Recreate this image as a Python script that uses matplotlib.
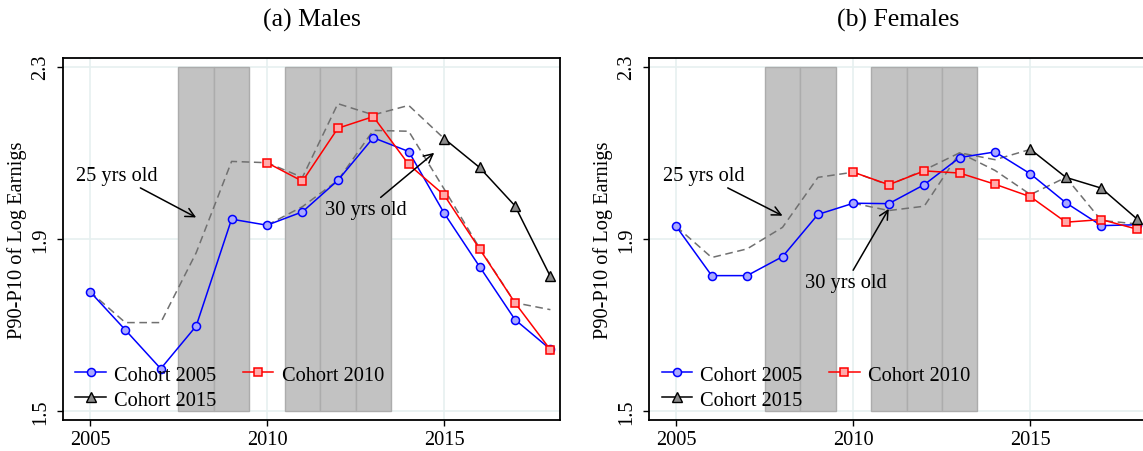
import numpy as np
import matplotlib
matplotlib.use("Agg")
import matplotlib.pyplot as plt

plt.rcParams["font.family"] = ["Liberation Serif", "DejaVu Serif"]

# Years with shaded bars (recession years)
band_years = [2008, 2009, 2011, 2012, 2013]
band_bottom = 1.5
band_top = 2.3

# Males
m_years_2005 = list(range(2005, 2019))
m_cohort_2005 = [1.778, 1.689, 1.599, 1.698, 1.946, 1.932, 1.963, 2.036,
                 2.135, 2.103, 1.960, 1.836, 1.713, 1.644]
m_years_2010 = list(range(2010, 2019))
m_cohort_2010 = [2.077, 2.034, 2.157, 2.184, 2.073, 2.002, 1.877, 1.752, 1.643]
m_years_2015 = list(range(2015, 2019))
m_cohort_2015 = [2.133, 2.066, 1.977, 1.813]
m_years_age25 = list(range(2005, 2016))
m_age25 = [1.778, 1.706, 1.706, 1.868, 2.080, 2.077, 2.043, 2.214,
           2.188, 2.210, 2.133]
m_years_age30 = list(range(2010, 2019))
m_age30 = [1.932, 1.975, 2.036, 2.152, 2.150, 2.016, 1.879, 1.752, 1.736]

# Females
f_years_2005 = list(range(2005, 2019))
f_cohort_2005 = [1.929, 1.815, 1.815, 1.859, 1.957, 1.983, 1.982, 2.026,
                 2.089, 2.102, 2.051, 1.984, 1.931, 1.933]
f_years_2010 = list(range(2010, 2019))
f_cohort_2010 = [2.055, 2.026, 2.058, 2.053, 2.027, 1.998, 1.939, 1.945, 1.923]
f_years_2015 = list(range(2015, 2019))
f_cohort_2015 = [2.108, 2.043, 2.018, 1.947]
f_years_age25 = list(range(2005, 2016))
f_age25 = [1.929, 1.857, 1.877, 1.927, 2.043, 2.055, 2.025, 2.060,
           2.100, 2.084, 2.108]
f_years_age30 = list(range(2010, 2019))
f_age30 = [1.983, 1.966, 1.976, 2.100, 2.059, 2.003, 2.043, 1.943, 1.935]

xticks = [2005, 2010, 2015]
yticks = [1.5, 1.9, 2.3]

FS = 14.7
TITLE_FS = 18.5
GRID = "#e6f0f0"
DASH = "#707070"


def draw_panel(ax, title, c05, c10, c15, age25, age30, notes):
    x05, y05 = c05
    x10, y10 = c10
    x15, y15 = c15

    ax.set_axisbelow(True)
    ax.grid(True, color=GRID, lw=1.2, zorder=0)
    ax.bar(band_years, band_top - band_bottom, bottom=band_bottom, width=1.0,
           color="#c2c2c2", edgecolor="#acacac", lw=1.0, zorder=1)

    dash = (0, (5, 3))
    ax.plot(*age25, color=DASH, lw=1.1, ls=dash, zorder=2)
    ax.plot(*age30, color=DASH, lw=1.1, ls=dash, zorder=2)

    h05, = ax.plot(x05, y05, color="#0000ff", lw=1.1, marker="o", ms=5.8,
                   mfc="#a9a9ff", mec="#0000ff", mew=1.1, zorder=3,
                   label="Cohort 2005")
    h10, = ax.plot(x10, y10, color="#ff0000", lw=1.1, marker="s", ms=5.8,
                   mfc="#ffaaaa", mec="#ff0000", mew=1.1, zorder=3,
                   label="Cohort 2010")
    h15, = ax.plot(x15, y15, color="black", lw=1.1, marker="^", ms=6.5,
                   mfc="#8a8a8a", mec="black", mew=1.0, zorder=3,
                   label="Cohort 2015")

    for text, xy, xytext in notes:
        ax.annotate(text, xy=xy, xytext=xytext, fontsize=FS, ha="left",
                    va="center", zorder=4,
                    arrowprops=dict(arrowstyle="->", color="black", lw=1.1,
                                    shrinkA=0, shrinkB=0,
                                    mutation_scale=16))

    ax.set_xlim(2004.24, 2018.27)
    ax.set_ylim(1.48, 2.32)
    ax.set_xticks(xticks)
    ax.set_yticks(yticks)
    ax.set_yticklabels([f"{v:.1f}" for v in yticks], rotation=90,
                       va="center")
    ax.tick_params(axis="both", labelsize=FS, length=4.5, width=1.0,
                   direction="out")
    ax.tick_params(axis="x", pad=3)
    ax.tick_params(axis="y", pad=5)
    for sp in ax.spines.values():
        sp.set_linewidth(1.3)
    ax.set_ylabel("P90-P10 of Log Earnigs", fontsize=FS, labelpad=3)
    ax.set_title(title, fontsize=TITLE_FS, pad=23)

    ax.legend([h05, h15, h10], ["Cohort 2005", "Cohort 2015", "Cohort 2010"],
              ncol=2, loc="lower left", bbox_to_anchor=(0.0, -0.005),
              frameon=False, fontsize=FS, handlelength=1.5,
              handletextpad=0.4, columnspacing=1.3, labelspacing=0.28,
              borderpad=0.3, borderaxespad=0.3)


fig = plt.figure(figsize=(11.43, 4.52), dpi=100)
ax1 = fig.add_axes([0.0551, 0.0686, 0.4348, 0.8009])
ax2 = fig.add_axes([0.5681, 0.0686, 0.4348, 0.8009])

draw_panel(ax1, "(a) Males",
           (m_years_2005, m_cohort_2005),
           (m_years_2010, m_cohort_2010),
           (m_years_2015, m_cohort_2015),
           (m_years_age25, m_age25),
           (m_years_age30, m_age30),
           [("25 yrs old", (2008.0, 1.950), (2004.62, 2.047)),
            ("30 yrs old", (2014.72, 2.100), (2011.64, 1.968))])
draw_panel(ax2, "(b) Females",
           (f_years_2005, f_cohort_2005),
           (f_years_2010, f_cohort_2010),
           (f_years_2015, f_cohort_2015),
           (f_years_age25, f_age25),
           (f_years_age30, f_age30),
           [("25 yrs old", (2008.0, 1.954), (2004.62, 2.047)),
            ("30 yrs old", (2011.0, 1.970), (2008.64, 1.799))])

fig.savefig("out.png", dpi=100)
